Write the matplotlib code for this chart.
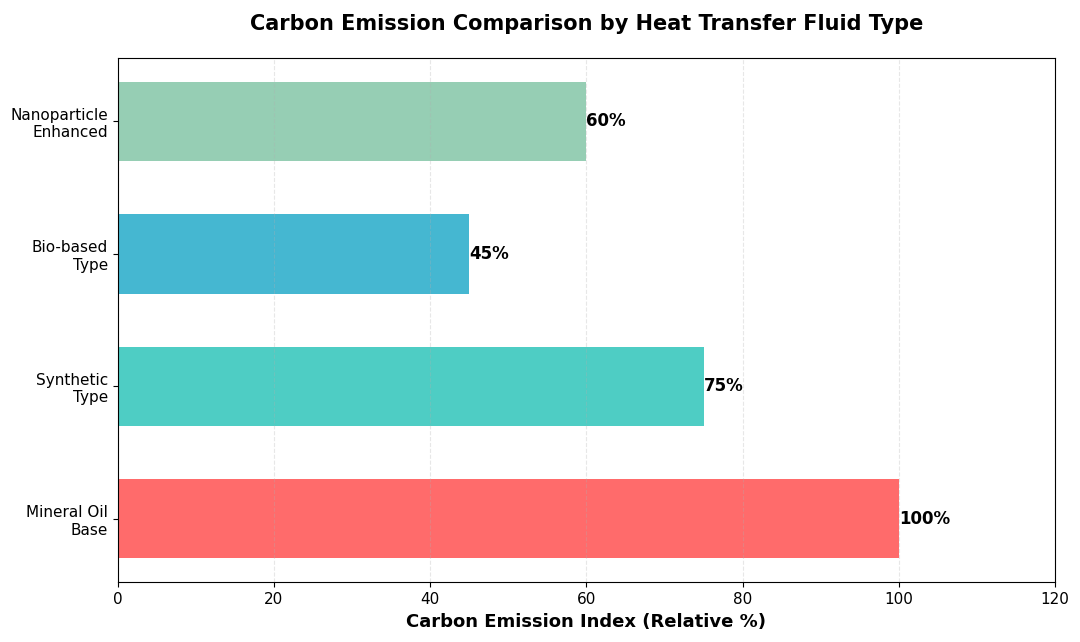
import matplotlib
matplotlib.use("Agg")
import matplotlib.pyplot as plt

categories = ["Mineral Oil\nBase", "Synthetic\nType", "Bio-based\nType", "Nanoparticle\nEnhanced"]
values = [100, 75, 45, 60]
colors = ["#FF6B6B", "#4ECDC4", "#45B7D1", "#96CEB4"]

fig, ax = plt.subplots(figsize=(10.8, 6.42), dpi=100)
fig.subplots_adjust(left=0.109, right=0.977, top=0.91, bottom=0.093)

bars = ax.barh(categories, values, height=0.6, color=colors)
ax.grid(axis="x", linestyle="--", alpha=0.3)

for b, v in zip(bars, values):
    ax.text(b.get_width(), b.get_y() + b.get_height() / 2, f"{v}%",
            va="center", ha="left", fontsize=12, fontweight="bold")

ax.set_xlim(0, 120)
ax.set_xlabel("Carbon Emission Index (Relative %)", fontsize=13, fontweight="bold")
ax.set_title("Carbon Emission Comparison by Heat Transfer Fluid Type",
             fontsize=15, fontweight="bold", pad=20)
ax.tick_params(labelsize=11)

fig.savefig("out.png", dpi=100)
